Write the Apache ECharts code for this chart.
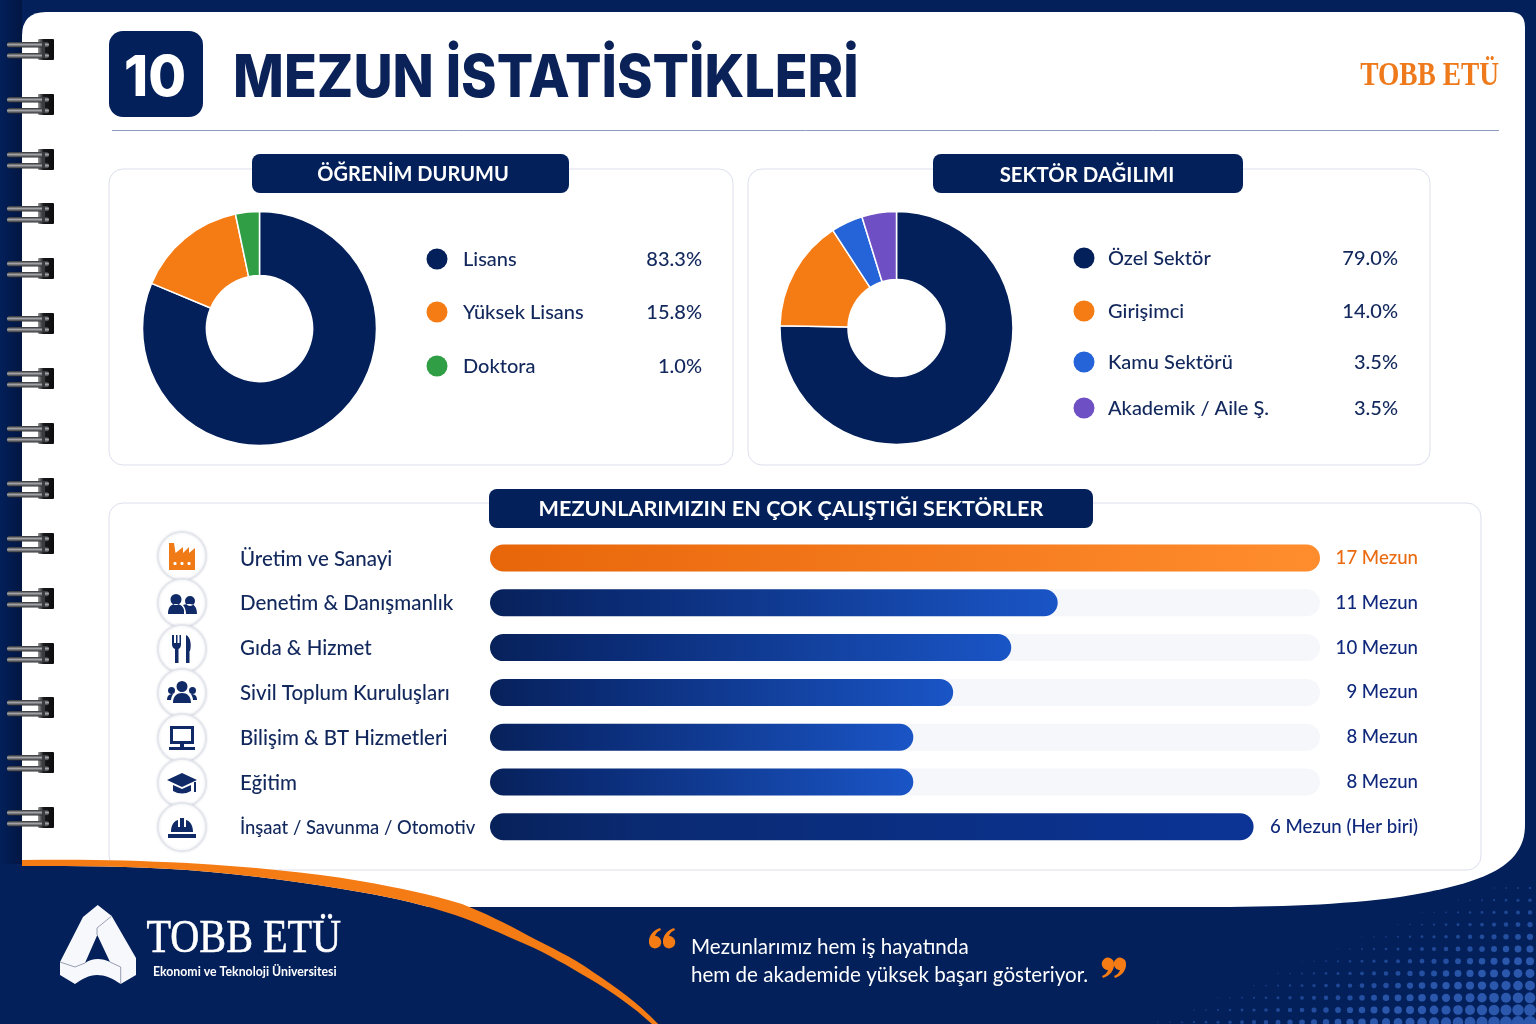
<!DOCTYPE html>
<html><head><meta charset="utf-8">
<style>html,body{margin:0;padding:0;background:#03205a}#c{width:1536px;height:1024px}</style>
<script src="https://cdn.jsdelivr.net/npm/echarts@6/dist/echarts.min.js"></script>
</head><body><div id="c"></div>
<script>
// Donut 1: printed legend values and the arc shares as they are drawn in the picture
const educationNames = ['Lisans', 'Yüksek Lisans', 'Doktora'];
const educationLabels = ['83.3%', '15.8%', '1.0%'];
const educationArcs = [81.3, 15.4, 3.3];
// Donut 2
const sectorNames = ['Özel Sektör', 'Girişimci', 'Kamu Sektörü', 'Akademik / Aile Ş.'];
const sectorLabels = ['79.0%', '14.0%', '3.5%', '3.5%'];
const sectorArcs = [75.3, 15.5, 4.4, 4.8];
// Bars: printed labels, and bar length as percent of the track as drawn in the picture
const barCategories = ['Üretim ve Sanayi', 'Denetim & Danışmanlık', 'Gıda & Hizmet', 'Sivil Toplum Kuruluşları', 'Bilişim & BT Hizmetleri', 'Eğitim', 'İnşaat / Savunma / Otomotiv'];
const barLabels = ['17 Mezun', '11 Mezun', '10 Mezun', '9 Mezun', '8 Mezun', '8 Mezun', '6 Mezun (Her biri)'];
const barLengths = [100, 68.4, 62.8, 55.8, 51, 51, 92];
const barTrack = [100, 100, 100, 100, 100, 100, null];

const NAVY = '#03205a', ORANGE = '#f57c14', GREEN = '#2f9e44', BLUE = '#2563d8', PURPLE = '#6f4fc4';
const INK = '#12285c';
const FONT = 'Lato';
const g = [];
let pathCount = 0;
const svgPath = (d, z, style, x, y) => {
  const name = 'svgp' + (pathCount++);
  echarts.graphic.registerShape(name, echarts.graphic.extendPath(d));
  g.push({ type: name, z, x: x || 0, y: y || 0, silent: true, style });
};
const txt = (text, x, y, o = {}) => g.push({ type: 'text', z: o.z || 6, x, y, scaleX: o.sx || 1, style: { text, x: 0, y: 0, fill: o.fill || INK, stroke: o.stroke || null, lineWidth: o.stroke ? (o.sw || 0.5) : 0, fontFamily: o.font || FONT, fontSize: o.size || 20, fontWeight: o.weight || 'normal', textAlign: o.align || 'left', textVerticalAlign: 'middle' } });
const rrect = (x, y, w, h, r, fill, stroke, z) => g.push({ type: 'rect', z: z || 1, shape: { x, y, width: w, height: h, r }, style: { fill, stroke: stroke || null, lineWidth: stroke ? 1 : 0 } });

// background depth
g.push({ type: 'rect', z: 0, shape: { x: 0, y: 0, width: 1536, height: 1024 }, style: { fill: NAVY } });
g.push({ type: 'rect', z: 0, shape: { x: 0, y: 0, width: 22, height: 864 }, style: { fill: { type: 'linear', x: 0, y: 0, x2: 1, y2: 0, colorStops: [{ offset: 0, color: '#03205a' }, { offset: 1, color: '#021642' }] } } });

// halftone dots
for (let y = 888; y < 1030; y += 12.2) {
  for (let x = 1530; x > 1130; x -= 12) {
    const lineY = 913 - 0.408 * (x - 1420);
    const d = y - lineY;
    if (d < 0) continue;
    g.push({ type: 'circle', z: 0, silent: true, shape: { cx: x, cy: y, r: Math.min(6.2, 0.5 + d * 0.038) }, style: { fill: '#2d5bb2', opacity: Math.min(0.95, 0.45 + d * 0.006) } });
  }
}

// paper
svgPath('M46 12 H1510 Q1525 12 1525 27 V825 C1525 868 1480 884 1400 897 C1340 905 1280 907 1200 907 H22 V36 Q22 12 46 12 Z', 1, { fill: '#ffffff' });
// navy area below the sweep, then the orange sweep itself (covers the card corner)
svgPath('M22 866 C80 866 130 866 187 870 C250 875 310 883 360 892 C395 898 425 905 455 915 C478 923 500 933 525 944 C548 954 568 966 590 979 C612 992 634 1007 654 1026 H22 Z', 3, { fill: NAVY });
svgPath('M22 860 C80 859 130 860 187 863 C250 867 310 872 360 881 C400 888 430 894 462 904 C485 913 505 923 527 935 C550 947 572 957 593 972 C617 988 640 1004 660 1026 H654 C634 1007 612 992 590 979 C568 966 548 954 525 944 C500 933 478 923 455 915 C425 905 395 898 360 892 C310 883 250 875 187 870 C130 866 80 866 22 866 Z', 4, { fill: ORANGE });

// spiral rings
const blockFill = { type: 'linear', x: 0, y: 0, x2: 1, y2: 0, colorStops: [{ offset: 0, color: '#9a9a9c' }, { offset: 0.35, color: '#17181a' }, { offset: 1, color: '#0c0c0e' }] };
const ringFill = { type: 'linear', x: 0, y: 0, x2: 0, y2: 1, colorStops: [{ offset: 0, color: '#2c2d30' }, { offset: 0.45, color: '#a2a3a6' }, { offset: 1, color: '#2a2b2e' }] };
[50, 105, 160, 214, 269, 324, 379, 434, 489, 544, 599, 654, 708, 763, 818].forEach(cy => {
  rrect(38, cy - 11, 16, 21, 1, blockFill, null, 3);
  [-8, 3].forEach(dy => {
    g.push({ type: 'rect', z: 4, shape: { x: 7, y: cy + dy, width: 42, height: 5.5, r: 2.7 }, style: { fill: ringFill } });
  });
  g.push({ type: 'rect', z: 4, shape: { x: 42, y: cy - 8, width: 3, height: 16 }, style: { fill: '#3a3b3e' } });
});

// header
rrect(109, 31, 94, 86, 14, NAVY, null, 2);
txt('10', 155, 79, { fill: '#fff', size: 57, weight: 800, align: 'center', font: 'Inter', sx: 0.96 });
txt('MEZUN İSTATİSTİKLERİ', 233, 79, { fill: '#0a2258', size: 58.5, weight: 800, font: 'Inter', sx: 0.922 });
txt('TOBB ETÜ', 1499, 76, { fill: '#ee7a1c', size: 33, weight: 'bold', align: 'right', font: 'Liberation Serif', sx: 0.83 });
g.push({ type: 'line', z: 2, shape: { x1: 112, y1: 130.5, x2: 1499, y2: 130.5 }, style: { stroke: '#8e9bc0', lineWidth: 1 } });

// cards
rrect(109, 169, 624, 296, 14, '#fff', '#dcdfec', 2);
rrect(748, 169, 682, 296, 14, '#fff', '#dcdfec', 2);
rrect(109, 503, 1372, 367, 14, '#fff', '#dcdfec', 2);
// pills
rrect(252, 154, 317, 39, 8, NAVY, null, 3);
txt('ÖĞRENİM DURUMU', 413, 175, { fill: '#fff', size: 20, weight: 'bold', align: 'center' });
rrect(933, 154, 310, 39, 8, NAVY, null, 3);
txt('SEKTÖR DAĞILIMI', 1087, 175, { fill: '#fff', size: 20.4, weight: 'bold', align: 'center' });
rrect(489, 489, 604, 39, 8, NAVY, null, 3);
txt('MEZUNLARIMIZIN EN ÇOK ÇALIŞTIĞI SEKTÖRLER', 791, 509, { fill: '#fff', size: 21.6, weight: 'bold', align: 'center' });

// legends
const eduColors = [NAVY, ORANGE, GREEN], secColors = [NAVY, ORANGE, BLUE, PURPLE];
[259, 312, 366].forEach((y, i) => {
  g.push({ type: 'circle', z: 5, shape: { cx: 437, cy: y, r: 10.5 }, style: { fill: eduColors[i] } });
  txt(educationNames[i], 463, y + 1, { size: 20, weight: 500 });
  txt(educationLabels[i], 702, y + 1, { size: 20, weight: 500, align: 'right' });
});
[258, 311, 362, 408].forEach((y, i) => {
  g.push({ type: 'circle', z: 5, shape: { cx: 1084, cy: y, r: 10.5 }, style: { fill: secColors[i] } });
  txt(sectorNames[i], 1108, y + 1, { size: 20, weight: 500 });
  txt(sectorLabels[i], 1398, y + 1, { size: 20, weight: 500, align: 'right' });
});

// icons
const iconY = [556, 603, 649, 693, 738, 783, 827];
iconY.forEach(cy => g.push({ type: 'circle', z: 3, shape: { cx: 182, cy, r: 24 }, style: { fill: '#fff', stroke: '#e3e5ec', lineWidth: 1.5, shadowBlur: 3, shadowColor: 'rgba(20,30,70,.12)' } }));
const icon = (i, d, fill) => svgPath(d, 4, { fill: fill || '#0f2a66' }, 182, iconY[i]);
icon(0, 'M-13 14 V-13 H-8 L-6.5 -3 L1 -9 V-3 L7 -9 V-3 L13 -8 V14 Z', '#ef7a16');
[-7, 0, 7].forEach(dx => g.push({ type: 'rect', z: 5, shape: { x: 182 + dx - 1.5, y: 562, width: 3, height: 3, r: 1 }, style: { fill: '#fff' } }));
icon(1, 'M-6 -9 a5.5 5.5 0 1 0 0.01 0 Z M8 -7 a5 5 0 1 0 0.01 0 Z M-14 11 C-14 3 -10 1 -6 1 C-2 1 1 3 2 7 L2 11 Z M4 11 C4 6 2 3 1 2 C3 1 5 1 8 1 C12 1 15 4 15 11 Z');
icon(2, 'M-10 -14 V-5 Q-10 -1 -7 0 V14 H-3.5 V0 Q-1 -1 -1 -5 V-14 H-2.5 V-6 H-4.5 V-14 H-6 V-6 H-8 V-14 Z M4 14 V-14 C9 -12 9.5 -3 8 2 H7.5 V14 Z');
icon(3, 'M0 -12 a5.5 5.5 0 1 0 0.01 0 Z M-10.5 -6 a3.5 3.5 0 1 0 0.01 0 Z M10.5 -6 a3.5 3.5 0 1 0 0.01 0 Z M-9 10 C-9 3 -5 0 0 0 C5 0 9 3 9 10 Z M-15 7 C-15 3 -13 1 -9 1 C-10 3 -11 5 -11 7 Z M15 7 C15 3 13 1 9 1 C10 3 11 5 11 7 Z');
icon(4, 'M-12 -12 H12 V6 H-12 Z M-9 -9 V3 H9 V-9 Z M-2 6 H2 V9 H13 V12 H-13 V9 H-2 Z');
icon(5, 'M0 -10 L15 -3 L0 4 L-15 -3 Z M-9 2 L0 6 L9 2 V8 Q0 13 -9 8 Z M12 -1 H14 V9 H12 Z');
icon(6, 'M-11 5 C-11 -2 -8 -6 -4 -7 V0 H-2 V-9 H2 V0 H4 V-7 C8 -6 11 -2 11 5 Z M-14 7 H14 V11 H-14 Z');

// footer logo
svgPath('M97.7 905 L111.7 916 L136 958 V975 L120.7 984 C112 978 105 975 97 975 C89 975 82 979 75 984 L60 975 V962 L83 917 Z M97.3 935 L85 963 C92 958 102 958 110 962 Z', 5, { fill: '#f7f8fb' });
svgPath('M97 935 V928 L111.7 916 M60 962 L75 967 L85 963 M110 962 L120.7 967 V984', 5, { fill: null, stroke: '#7d86a0', lineWidth: 0.8 });
txt('TOBB ETÜ', 146.5, 940, { fill: '#fff', stroke: '#fff', sw: 0.6, size: 47, font: 'Liberation Serif', sx: 0.855 });
txt('Ekonomi ve Teknoloji Üniversitesi', 153, 972, { fill: '#fff', size: 12.3, weight: 'bold' });
txt('Mezunlarımız hem iş hayatında', 691, 947, { fill: '#fff', size: 20.6 });
txt('hem de akademide yüksek başarı gösteriyor.', 691, 975, { fill: '#fff', size: 20.6 });
// quote marks
const openMark = 'M11 0 C4 2 0 8 0 13 a6.2 6.2 0 1 0 6 -5 C7 5 9 3 12 2 Z';
const closeMark = 'M1 18 C8 16 12 10 12 5 a6.2 6.2 0 1 0 -6 5 C5 13 3 15 0 16 Z';
svgPath(openMark, 5, { fill: ORANGE }, 649, 928);
svgPath(openMark, 5, { fill: ORANGE }, 663, 928);
svgPath(closeMark, 5, { fill: ORANGE }, 1102, 960);
svgPath(closeMark, 5, { fill: ORANGE }, 1114, 960);

const barGradient = (i) => i === 0
  ? { type: 'linear', x: 0, y: 0, x2: 1, y2: 0, colorStops: [{ offset: 0, color: '#e8660a' }, { offset: 1, color: '#ff8d2e' }] }
  : { type: 'linear', x: 0, y: 0, x2: 1, y2: 0, colorStops: [{ offset: 0, color: '#07215a' }, { offset: 0.2, color: '#0a2a72' }, { offset: 1, color: i === 6 ? '#0b3496' : '#1a55c6' }] };

const pie = (center, names, arcs, colors, inner, outer) => ({
  type: 'pie', center, radius: [inner, outer], startAngle: 90, clockwise: true, silent: true, z: 6,
  label: { show: false }, labelLine: { show: false },
  itemStyle: { borderColor: '#fff', borderWidth: 1.5 },
  data: names.map((name, i) => ({ name, value: arcs[i], itemStyle: { color: colors[i] } }))
});

const chart = echarts.init(document.getElementById('c'), null, { renderer: 'canvas' });
chart.setOption({
  animation: false,
  backgroundColor: NAVY,
  graphic: { elements: g },
  grid: { left: 490, width: 830, top: 535.6, height: 313.6, containLabel: false },
  xAxis: { type: 'value', min: 0, max: 100, show: false },
  yAxis: [
    { type: 'category', z: 10, inverse: true, data: barCategories, axisLine: { show: false }, axisTick: { show: false },
      axisLabel: { align: 'left', margin: 250, fontFamily: FONT, fontWeight: 500, fontSize: 20.5, color: INK, padding: [2, 0, 0, 0],
        formatter: (v, i) => i === 6 ? '{small|' + v + '}' : v,
        rich: { small: { fontFamily: FONT, fontWeight: 500, fontSize: 18.4, color: INK } } } },
    { type: 'category', z: 10, inverse: true, position: 'right', data: barLabels, axisLine: { show: false }, axisTick: { show: false },
      axisLabel: { align: 'right', margin: 98, fontFamily: FONT, fontWeight: 500, fontSize: 18.6, padding: [8, 0, 0, 0], color: (v, i) => i === 0 ? '#ea6a10' : '#10297c' } }
  ],
  series: [
    pie([259.5, 328.5], educationNames, educationArcs, eduColors, 53, 117),
    pie([896.5, 328], sectorNames, sectorArcs, secColors, 48.5, 116.5),
    { type: 'bar', yAxisIndex: 0, data: barTrack, barWidth: 27, barGap: '-100%', silent: true, z: 3,
      itemStyle: { color: '#f6f7fb', borderRadius: 14 } },
    { type: 'bar', yAxisIndex: 0, barWidth: 27, barGap: '-100%', silent: true, z: 4,
      data: barLengths.map((value, i) => ({ value, itemStyle: { color: barGradient(i), borderRadius: 14 } })) }
  ]
});
</script></body></html>
